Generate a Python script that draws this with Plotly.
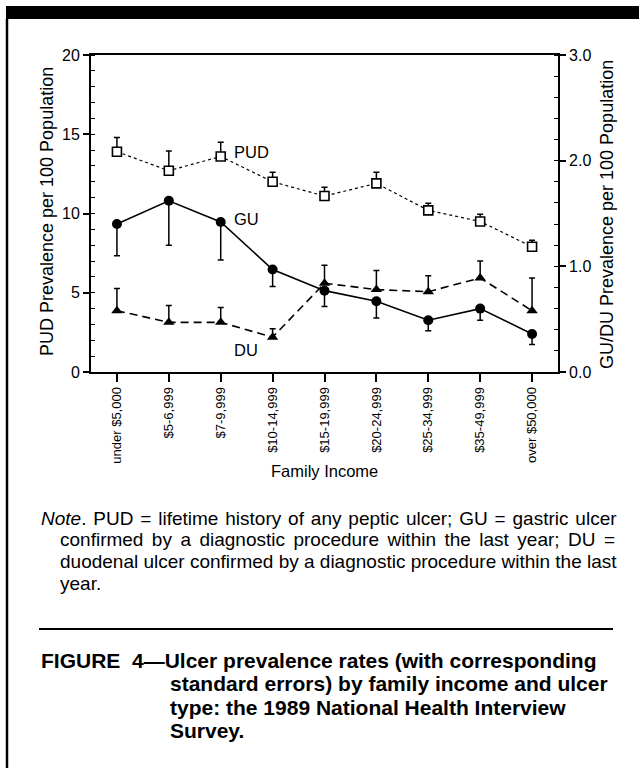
import plotly.graph_objects as go

# ---------------- data ----------------
categories = ["under $5,000", "$5-6,999", "$7-9,999", "$10-14,999", "$15-19,999",
              "$20-24,999", "$25-34,999", "$35-49,999", "over $50,000"]
pud = [13.9, 12.7, 13.6, 12.0, 11.1, 11.9, 10.2, 9.5, 7.9]
pud_se = [0.9, 1.25, 0.9, 0.6, 0.55, 0.7, 0.45, 0.45, 0.42]
gu = [1.40, 1.62, 1.42, 0.97, 0.77, 0.67, 0.49, 0.60, 0.36]
gu_se = [0.30, 0.42, 0.36, 0.16, 0.15, 0.16, 0.10, 0.11, 0.10]
du = [0.58, 0.47, 0.47, 0.33, 0.84, 0.78, 0.76, 0.89, 0.58]
du_se = [0.21, 0.16, 0.14, 0.08, 0.17, 0.18, 0.15, 0.16, 0.31]

left_ticks = [0, 5, 10, 15, 20]
right_ticks = [0, 1, 2, 3]
right_ticktext = ["0.0", "1.0", "2.0", "3.0"]

FONT = "Liberation Sans, Arial, Helvetica, sans-serif"
W, H = 639, 768
L, R, T, B = 91, 558, 55, 372


def px(x):
    return (x - L) / (R - L)


def py(y):
    return (B - y) / (B - T)


zeros = [0] * len(categories)

fig = go.Figure()
fig.add_trace(go.Scatter(
    x=categories, y=pud, mode="lines+markers", name="PUD",
    line=dict(color="black", width=1.2, dash="dot"),
    marker=dict(symbol="square", size=9, color="white", line=dict(color="black", width=1.6)),
    error_y=dict(type="data", symmetric=False, array=pud_se, arrayminus=zeros,
                 color="black", thickness=1.5, width=3),
    yaxis="y"))
fig.add_trace(go.Scatter(
    x=categories, y=gu, mode="lines+markers", name="GU",
    line=dict(color="black", width=1.6),
    marker=dict(symbol="circle", size=10, color="black"),
    error_y=dict(type="data", symmetric=False, array=zeros, arrayminus=gu_se,
                 color="black", thickness=1.5, width=3),
    yaxis="y2"))
fig.add_trace(go.Scatter(
    x=categories, y=du, mode="lines+markers", name="DU",
    line=dict(color="black", width=1.6, dash="8px,5px"),
    marker=dict(symbol="triangle-up", size=10, color="black"),
    error_y=dict(type="data", symmetric=False, array=du_se, arrayminus=zeros,
                 color="black", thickness=1.5, width=3),
    yaxis="y2"))

shapes = [
    dict(type="rect", xref="paper", yref="paper", x0=px(6), x1=px(645), y0=py(19), y1=py(6),
         fillcolor="black", line=dict(width=0), layer="above"),
    dict(type="line", xref="paper", yref="paper", x0=px(7), x1=px(7), y0=py(19), y1=py(775),
         line=dict(color="black", width=2.5)),
    dict(type="line", xref="paper", yref="paper", x0=px(39), x1=px(613), y0=py(629), y1=py(629),
         line=dict(color="black", width=2)),
]


def ann(text, x, y, size=15, xanchor="left", angle=0, bold=False):
    return dict(text=("<b>%s</b>" % text) if bold else text, x=px(x), y=py(y),
                xref="paper", yref="paper", showarrow=False, xanchor=xanchor,
                yanchor="middle", textangle=angle,
                font=dict(family=FONT, size=size, color="black"))


def justify(text, extra):
    return (" " + extra).join(text.split(" "))


HAIR = "\u200a"
NOTE = 19
CAP = 21

annotations = [
    ann("PUD", 232, 152, size=16.5),
    ann("GU", 232, 219, size=16.5),
    ann("DU", 232, 350, size=16.5),
    ann("PUD Prevalence per 100 Population", 47, 212, size=18, xanchor="center", angle=-90),
    ann("GU/DU Prevalence per 100 Population", 607, 215, size=18, xanchor="center", angle=-90),
    ann("Family Income", 324, 471, size=16.5, xanchor="center"),
    ann(justify("<i>Note</i>. PUD = lifetime history of any peptic ulcer; GU = gastric ulcer", HAIR), 39, 518, size=NOTE),
    ann(justify("confirmed by a diagnostic procedure within the last year; DU =", HAIR * 2), 58, 539, size=NOTE),
    ann("duodenal ulcer confirmed by a diagnostic procedure within the last", 58, 561, size=NOTE),
    ann("year.", 58, 583, size=NOTE),
    ann("FIGURE\u00a0\u00a04\u2014Ulcer prevalence rates (with corresponding", 39, 660, size=CAP, bold=True),
    ann("standard errors) by family income and ulcer", 168, 683, size=CAP, bold=True),
    ann("type: the 1989 National Health Interview", 168, 707, size=CAP, bold=True),
    ann("Survey.", 168, 730, size=CAP, bold=True),
]

fig.update_layout(
    width=W, height=H,
    margin=dict(l=L, r=W - R, t=T, b=H - B, pad=0),
    paper_bgcolor="white", plot_bgcolor="white",
    showlegend=False,
    font=dict(family=FONT, size=15, color="black"),
    xaxis=dict(type="category", range=[-0.5, 8.5], showgrid=False, zeroline=False,
               showline=True, linecolor="black", linewidth=1.8, mirror=True,
               ticks="outside", ticklen=8, tickwidth=1.5, tickcolor="black",
               tickangle=-90, tickfont=dict(family=FONT, size=13)),
    yaxis=dict(range=[0, 20], tickvals=left_ticks, showgrid=False, zeroline=False,
               showline=True, linecolor="black", linewidth=1.8,
               ticks="outside", ticklen=6, tickwidth=1.5, tickcolor="black",
               minor=dict(ticks="inside", dtick=1, ticklen=4, tickwidth=1, tickcolor="black"),
               tickfont=dict(family=FONT, size=16)),
    yaxis2=dict(range=[0, 3], tickvals=right_ticks, ticktext=right_ticktext,
                overlaying="y", side="right", showgrid=False, zeroline=False,
                showline=True, linecolor="black", linewidth=1.8,
                ticks="outside", ticklen=6, tickwidth=1.5, tickcolor="black",
                minor=dict(ticks="inside", dtick=0.2, ticklen=4, tickwidth=1, tickcolor="black"),
                tickfont=dict(family=FONT, size=16)),
    shapes=shapes,
    annotations=annotations,
)

fig.write_html("out.html", config={"displayModeBar": False},
               post_script="document.body.style.margin='0';")
